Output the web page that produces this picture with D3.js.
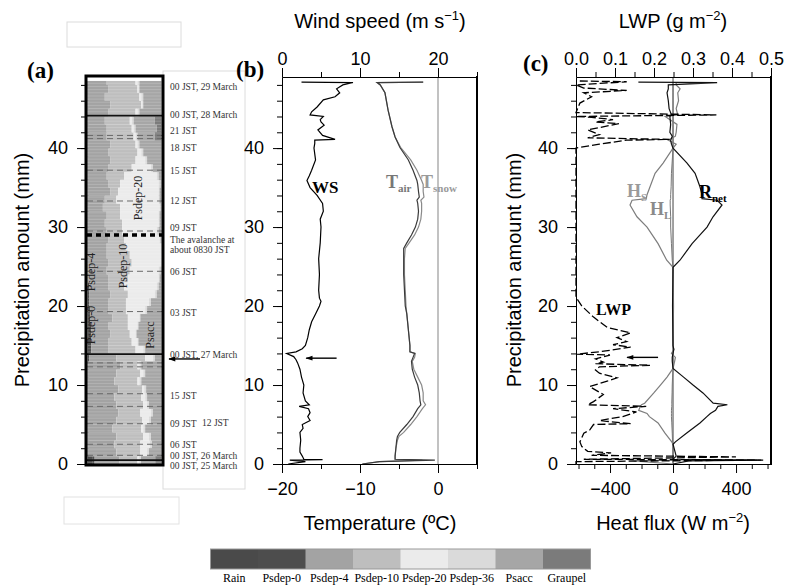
<!DOCTYPE html>
<html>
<head>
<meta charset="utf-8">
<script src="https://cdn.jsdelivr.net/npm/d3@7"></script>
<style>
  body { margin: 0; background: #fff; }
  text { font-family: "Liberation Sans", Arial, sans-serif; }
  .serif { font-family: "Liberation Serif", "Times New Roman", serif; }
</style>
</head>
<body>
<svg id="fig" width="787" height="587"></svg>
<script>
// ---- data ----
// panel (a): precipitation levels (mm) and relative share of each process in that level
var levels = [0,1,2,3,4,5,6,7,8,9,10,11,12,13,14,15,16,17,18,19,20,21,22,23,24,
  25,26,27,28,29,30,31,32,33,34,35,36,37,38,39,40,41,42,43,44,45,46,47,48];
var rainShare    = [6,0,0,0,0,0,0,0,0,0,0,0,0,0,0,0,0,0,0,0,0,0,0,0,0,0,0,0,0,0,0,0,0,0,0,0,0,0,0,0,0,0,0,0,0,0,0,0,0];
var psdep0Share  = [2,1,1,1,1,1,1,1,1,1,1,1,1,2,4,4,4,4,3,3,2,2,2,1,1,1,1,1,1,1,1,1,1,1,1,1,1,1,1,1,1,1,1,1,1,1,1,1,1];
var psdep4Share  = [28,29,27,29,25,29,31,29,27,31,27,29,33,28,18,18,20,18,23,19,20,22,20,21,19,21,19,19,21,19,17,19,15,17,23,21,19,21,23,21,23,19,19,17,21,23,17,21,19];
var psdep10Share = [20,25,27,28,30,27,23,28,28,25,24,25,18,30,28,24,20,20,16,18,18,18,16,20,24,24,24,20,16,16,18,14,18,12,8,12,18,24,26,30,26,28,26,26,28,32,36,30,30];
var psdep20Share = [2,7,10,6,2,7,11,4,4,2,2,3,2,8,8,6,6,10,12,20,24,28,34,32,30,30,32,36,37,36,38,40,41,44,42,40,34,20,10,4,2,2,2,2,2,1,2,1,2];
var psdep36Share = [2,2,2,2,2,2,2,2,2,2,2,2,2,2,2,1,1,1,1,2,2,2,2,1,2,1,1,1,1,2,1,1,1,1,1,2,2,2,2,2,2,2,2,2,2,1,2,1,2];
var psaccShare   = [16,13,10,11,17,11,9,13,15,16,21,17,21,7,17,24,26,24,22,15,11,5,3,2,1,0,0,0,1,3,2,2,1,2,2,1,3,9,15,19,23,18,22,22,23,19,19,23,23];
var graupelShare = [7,0,0,0,0,0,0,0,0,0,0,0,0,0,0,0,0,0,0,0,0,0,0,0,0,0,0,0,0,0,0,0,0,0,0,0,0,0,0,0,0,7,5,7,0,0,0,0,0];

var categories = ["Rain", "Psdep-0", "Psdep-4", "Psdep-10", "Psdep-20", "Psdep-36", "Psacc", "Graupel"];
var catColors  = ["#4a4a4a", "#4d4d4d", "#a3a3a3", "#bebebe", "#ebebeb", "#dadada", "#a6a6a6", "#7b7b7b"];

// time marks in panel (a)
var timeLabels = ["00 JST, 29 March", "00 JST, 28 March", "21 JST", "18 JST", "15 JST", "12 JST", "09 JST",
  "The avalanche at", "about 0830 JST", "06 JST", "03 JST", "00 JST, 27 March", "15 JST", "09 JST",
  "06 JST", "00 JST, 26 March", "00 JST, 25 March"];
var timeLabelMm = [47.8, 44.2, 42.2, 40.1, 37.1, 33.3, 29.9, 28.4, 27.2, 24.3, 19.1, 13.8, 8.7, 5.1, 2.5, 1.0, -0.25];
var solidLinesMm  = [0.5, 13.9, 44.1];
var dashedLinesMm = [1.1, 2.5, 5.1, 7.3, 8.9, 12.3, 12.8, 19.3, 24.4, 29.5, 33.3, 37.2, 41.2, 41.6];
var avalancheMm = 29.0;

// panel (b): wind speed
var wsMm  = [0,0.3,0.5,0.55,0.6,1,1.5,2,3,4,4.5,5,5.5,6,6.5,7,7.3,7.5,8,9,10,11,12,12.8,13.2,13.6,14,14.2,14.6,15,16,17,18,19,20,20.6,21,22,24,26,28,30,31,32,33,34,35,35.9,36.5,37.2,38.5,40,40.6,41,41.1,41.3,41.6,42.3,42.9,43.3,43.6,44,44.2,44.6,45.2,46.1,46.5,47,47.5,48,48.3,48.35];
var wsVal = [0.8,3.0,1.0,5.2,2.8,2.6,2.3,2.3,2.4,2.3,2.7,2.6,3.6,3.3,3.6,3.4,2.2,3.5,3.0,2.7,2.8,2.5,2.3,2.0,1.8,1.5,0.6,1.8,2.6,3.0,3.3,3.5,3.8,4.3,4.8,5.0,4.8,4.7,4.8,4.7,4.9,5.0,4.9,5.3,5.2,4.5,3.6,3.2,3.5,3.8,4.3,4.1,4.2,4.2,6.8,6.2,5.2,4.6,5.4,5.0,4.9,5.3,3.6,3.8,4.5,5.3,6.8,7.4,7.0,7.8,9.1,2.5];

// panel (b): air and snow surface temperature
var tMm    = [0,0.3,0.5,0.6,1,2,3,3.5,4,5,6,7,7.5,8,9,10,11,12,13,13.5,14,14.2,15,17,19,20,22,24,26,27.3,28,29,30,31,32,33,33.4,33.8,34.5,35.4,35.9,37.2,38.5,40.1,41.4,42.7,44.8,47,48,48.3,48.35];
var tAir   = [-9.7,-7.5,-0.4,-5.5,-5.5,-5.4,-5.3,-5.2,-4.9,-4.0,-3.2,-2.6,-2.2,-2.3,-2.4,-2.6,-3.0,-3.3,-3.4,-3.2,-3.0,-3.6,-3.6,-3.8,-4.0,-4.2,-4.3,-4.4,-4.4,-4.4,-4.0,-3.4,-2.9,-2.6,-2.5,-2.6,-2.7,-2.4,-2.5,-2.6,-2.7,-3.2,-3.8,-4.9,-5.5,-5.9,-6.4,-6.8,-7.4,-7.8,-1.9];
var tSnow  = [-9.7,-7.5,-2.0,-5.5,-5.5,-5.4,-5.2,-5.0,-4.4,-3.5,-2.7,-2.0,-1.6,-1.9,-1.9,-2.1,-2.6,-3.1,-3.3,-3.0,-2.9,-3.6,-3.6,-3.8,-4.0,-4.1,-4.2,-4.3,-4.3,-4.2,-3.7,-3.0,-2.5,-2.2,-2.1,-2.1,-2.2,-1.8,-1.9,-1.9,-2.1,-2.7,-3.5,-4.8,-5.5,-5.9,-6.4,-6.8,-7.4,-7.8,-1.9];

// panel (c): liquid water path
var lwpMm  = [0,0.3,0.5,0.6,0.9,1.1,1.4,1.6,2.2,2.8,3.9,4.3,5.0,5.1,5.5,6.0,6.6,7.0,7.3,7.5,7.9,8.8,9.8,10.5,10.9,11.5,11.9,12.3,12.5,12.7,12.9,13.3,13.8,13.9,14.2,14.8,15.1,15.5,16.0,16.6,17.3,18.6,20.0,21.1,40.0,40.5,41.0,41.1,41.3,41.7,42.3,43.1,43.3,43.6,43.9,44.0,44.2,44.5,45.7,46.5,47.0,47.3,47.6,48.0,48.4,48.5];
var lwpVal = [0,0,0.48,0.02,0.41,0.04,0.09,0.03,0.015,0.01,0.02,0.035,0.045,0.14,0.06,0.12,0.155,0.095,0.18,0.03,0.045,0.07,0.035,0.08,0.105,0.06,0.05,0.06,0.19,0.05,0.07,0.05,0.087,0,0.06,0.14,0.095,0.13,0.105,0.14,0.08,0.045,0.015,0,0,0.06,0.13,0.24,0.03,0.06,0.03,0.11,0.05,0.095,0.04,0,0.36,0,0.01,0.04,0.02,0.13,0.02,0,0.13,0];

// panel (c): heat fluxes
var fluxMm = [0,0.4,0.5,0.6,1.0,2.5,2.8,3.9,5.2,6.0,6.4,6.8,7.3,7.5,7.7,9.0,10.0,11.0,12.1,13.0,13.5,14.0,14.5,15.0,20,24.9,25.8,27.9,30.0,31.3,32.8,33.4,33.6,34.1,35.1,36.8,38.1,40.0,40.5,41.0,41.5,42,43,44,44.2,45,46,47,47.5,48,48.3,48.35];
var hsVal  = [0,-250,0,0,0,0,-8,-51,-95,-150,-165,-218,-207,-200,-180,-122,-80,-38,0,10,15,-10,5,0,3,0,-40,-95,-165,-229,-273,-260,-170,-165,-146,-114,-63,0,20,-30,15,20,25,-50,30,20,35,30,45,20,20,20];
var hlVal  = [0,0,0,0,0,0,-3,-5,-8,-10,-10,-10,-8,-8,-8,-6,-5,-3,0,0,0,0,0,0,0,0,-5,-10,-15,-15,-18,-18,-15,-15,-12,-10,-6,0,0,0,0,0,0,0,0,0,0,0,0,0,0,0];
var rnetVal= [0,100,560,0,20,0,15,85,171,215,237,270,285,345,255,190,127,67,0,-5,-5,0,5,0,-3,0,44,121,216,254,311,280,184,184,171,140,89,0,-10,-15,-5,-20,-15,-20,-10,-25,-30,-38,-30,-30,280,-220];

// ---- figure ----
var svg = d3.select("#fig");

var y = d3.scaleLinear().domain([0, 49]).range([464, 77]);
var xa = d3.scaleLinear().domain([0, 1]).range([87.5, 161.5]);
var xw = d3.scaleLinear().domain([0, 25]).range([282, 477]);
var xt = d3.scaleLinear().domain([-20, 5]).range([282, 477]);
var xl = d3.scaleLinear().domain([0, 0.5]).range([576, 771]);
var xf = d3.scaleLinear().domain([-616, 622]).range([576, 771]);

// blank boxes of the original layout
svg.append("rect").attr("x", 67).attr("y", 22).attr("width", 114).attr("height", 25)
  .attr("fill", "#fff").attr("stroke", "#dcdcdc");
svg.append("rect").attr("x", 64).attr("y", 497).attr("width", 115).attr("height", 27)
  .attr("fill", "#fff").attr("stroke", "#e2e2e2");
// box behind time labels
svg.append("rect").attr("x", 163).attr("y", 71).attr("width", 82).attr("height", 418)
  .attr("fill", "#fff").attr("stroke", "#dcdcdc");

// ---------- panel (a) ----------
var rows = levels.map(function(l, i) {
  return {level: l, "Rain": rainShare[i], "Psdep-0": psdep0Share[i], "Psdep-4": psdep4Share[i],
    "Psdep-10": psdep10Share[i], "Psdep-20": psdep20Share[i], "Psdep-36": psdep36Share[i],
    "Psacc": psaccShare[i], "Graupel": graupelShare[i]};
});
var stacked = d3.stack().keys(categories).offset(d3.stackOffsetExpand)(rows);

var gA = svg.append("g");
gA.append("rect").attr("x", 86).attr("y", 76).attr("width", 77).attr("height", 389).attr("fill", "#fff");
stacked.forEach(function(layer, k) {
  gA.selectAll(null).data(layer).enter().append("rect")
    .attr("x", d => xa(d[0]))
    .attr("width", d => Math.max(0, xa(d[1]) - xa(d[0])))
    .attr("y", d => y(Math.min(d.data.level + 1, 48.5)))
    .attr("height", d => y(d.data.level) - y(Math.min(d.data.level + 1, 48.5)) + 0.3)
    .attr("fill", catColors[k]);
});
// banded look of the original raster
gA.selectAll(null).data(d3.range(0.2, 48.5, 0.4)).enter().append("line")
  .attr("x1", 87).attr("x2", 162).attr("y1", d => y(d)).attr("y2", d => y(d))
  .attr("stroke", "#fff").attr("stroke-opacity", 0.22).attr("stroke-width", 0.8);

gA.selectAll(null).data(dashedLinesMm).enter().append("line")
  .attr("x1", 87).attr("x2", 162).attr("y1", d => y(d)).attr("y2", d => y(d))
  .attr("stroke", "#6a6a6a").attr("stroke-width", 1).attr("stroke-dasharray", "6,4");
gA.selectAll(null).data(solidLinesMm).enter().append("line")
  .attr("x1", 87).attr("x2", 162).attr("y1", d => y(d)).attr("y2", d => y(d))
  .attr("stroke", "#111").attr("stroke-width", 1.8);
gA.append("line").attr("x1", 87).attr("x2", 162)
  .attr("y1", y(avalancheMm)).attr("y2", y(avalancheMm))
  .attr("stroke", "#000").attr("stroke-width", 3.5).attr("stroke-dasharray", "5,4");

// process names inside panel (a)
var inner = [["Psdep-0", 95, 325], ["Psdep-4", 95, 272], ["Psdep-10", 127, 266], ["Psdep-20", 142, 198], ["Psacc", 154, 335]];
inner.forEach(function(t) {
  gA.append("text").attr("class", "serif")
    .attr("transform", "translate(" + t[1] + "," + t[2] + ") rotate(-90)")
    .attr("text-anchor", "middle").attr("font-size", 12).attr("fill", "#222").text(t[0]);
});

gA.append("rect").attr("x", 86).attr("y", 76).attr("width", 77).attr("height", 389)
  .attr("fill", "none").attr("stroke", "#000").attr("stroke-width", 3);

// time labels
svg.append("g").selectAll("text").data(timeLabels).enter().append("text")
  .attr("class", "serif").attr("x", 170).attr("y", (d, i) => y(timeLabelMm[i]))
  .attr("dy", "0.35em").attr("font-size", 9.5).attr("fill", "#333").text(d => d);
svg.append("text").attr("class", "serif").attr("x", 202).attr("y", y(5.2)).attr("dy", "0.35em")
  .attr("font-size", 9.5).attr("fill", "#333").text("12 JST");

// arrow markers (head points along the line direction)
svg.append("defs").append("marker").attr("id", "ah").attr("viewBox", "0 0 10 10")
  .attr("refX", 9).attr("refY", 5).attr("markerUnits", "userSpaceOnUse")
  .attr("markerWidth", 8).attr("markerHeight", 7).attr("orient", "auto")
  .append("path").attr("d", "M0,1.5 L10,5 L0,8.5 Z").attr("fill", "#000");

function arrow(x1, x2, yy) {
  // line drawn from the right end to the left end, head at the left
  svg.append("line").attr("x1", x2).attr("x2", x1).attr("y1", yy).attr("y2", yy)
    .attr("stroke", "#000").attr("stroke-width", 1.4).attr("marker-end", "url(#ah)");
}
arrow(169, 200, y(13.3));

// ---------- helper for axes ----------
function styleAxis(g, size) {
  g.selectAll("text").attr("font-size", size).attr("fill", "#000")
    .attr("font-family", "'Liberation Sans', Arial, sans-serif");
  g.selectAll("line").attr("stroke", "#000");
  g.select(".domain").attr("stroke", "#000");
}
function leftAxis(x0) {
  var g1 = svg.append("g").attr("transform", "translate(" + x0 + ",0)")
    .call(d3.axisLeft(y).tickValues(d3.range(0, 49, 2)).tickSize(5).tickSizeOuter(0).tickFormat(""));
  styleAxis(g1, 18);
  var g2 = svg.append("g").attr("transform", "translate(" + x0 + ",0)")
    .call(d3.axisLeft(y).tickValues([0, 10, 20, 30, 40]).tickSize(9).tickPadding(9).tickSizeOuter(0));
  styleAxis(g2, 18);
  g2.select(".domain").remove();
}
function yTitle(x0) {
  svg.append("text").attr("transform", "translate(" + x0 + "," + 270 + ") rotate(-90)")
    .attr("text-anchor", "middle").attr("font-size", 20).text("Precipitation amount (mm)");
}

leftAxis(86);
yTitle(29);

// ---------- panel (b) ----------
svg.append("line").attr("x1", xt(0)).attr("x2", xt(0)).attr("y1", 77).attr("y2", 464)
  .attr("stroke", "#999").attr("stroke-width", 1.2);

var lineT = function(vals) {
  return d3.line().x((d, i) => xt(vals[i])).y(d => y(d));
};
svg.append("path").datum(tMm).attr("d", lineT(tSnow))
  .attr("fill", "none").attr("stroke", "#8a8a8a").attr("stroke-width", 1.2);
svg.append("path").datum(tMm).attr("d", lineT(tAir))
  .attr("fill", "none").attr("stroke", "#3a3a3a").attr("stroke-width", 1.2);
svg.append("path").datum(wsMm)
  .attr("d", d3.line().x((d, i) => xw(wsVal[i])).y(d => y(d)))
  .attr("fill", "none").attr("stroke", "#000").attr("stroke-width", 1.2);

leftAxis(282);
var gbt = svg.append("g").attr("transform", "translate(0,77)")
  .call(d3.axisTop(xw).tickValues([5, 15, 25]).tickSize(5).tickSizeOuter(0).tickFormat(""));
styleAxis(gbt, 18);
var gbt2 = svg.append("g").attr("transform", "translate(0,77)")
  .call(d3.axisTop(xw).tickValues([0, 10, 20]).tickSize(9).tickPadding(3).tickSizeOuter(0));
styleAxis(gbt2, 18);
var gbb = svg.append("g").attr("transform", "translate(0,464)")
  .call(d3.axisBottom(xt).tickValues([-15, -5, 5]).tickSize(5).tickSizeOuter(0).tickFormat(""));
styleAxis(gbb, 18);
var gbb2 = svg.append("g").attr("transform", "translate(0,464)")
  .call(d3.axisBottom(xt).tickValues([-20, -10, 0]).tickSize(9).tickPadding(9).tickSizeOuter(0));
styleAxis(gbb2, 18);
svg.append("line").attr("x1", 477).attr("x2", 477).attr("y1", 76).attr("y2", 465)
  .attr("stroke", "#000").attr("stroke-width", 2);

arrow(xw(3.1), xw(7.0), y(13.4));

svg.append("text").attr("class", "serif").attr("x", 312).attr("y", 193)
  .attr("font-size", 17).attr("font-weight", "bold").text("WS");
var tA = svg.append("text").attr("class", "serif").attr("x", 386).attr("y", 188)
  .attr("font-size", 18).attr("font-weight", "bold").attr("fill", "#777");
tA.append("tspan").text("T");
tA.append("tspan").attr("dy", 4).attr("font-size", 11).text("air");
var tS = svg.append("text").attr("class", "serif").attr("x", 421).attr("y", 188)
  .attr("font-size", 18).attr("font-weight", "bold").attr("fill", "#9a9a9a");
tS.append("tspan").text("T");
tS.append("tspan").attr("dy", 4).attr("font-size", 11).text("snow");

// ---------- panel (c) ----------
svg.append("line").attr("x1", xf(0)).attr("x2", xf(0)).attr("y1", 77).attr("y2", 464)
  .attr("stroke", "#444").attr("stroke-width", 1);

var lineF = function(vals) {
  return d3.line().x((d, i) => xf(vals[i])).y(d => y(d));
};
svg.append("path").datum(fluxMm).attr("d", lineF(hlVal))
  .attr("fill", "none").attr("stroke", "#777").attr("stroke-width", 1);
svg.append("path").datum(fluxMm).attr("d", lineF(hsVal))
  .attr("fill", "none").attr("stroke", "#7d7d7d").attr("stroke-width", 1.2);
svg.append("path").datum(fluxMm).attr("d", lineF(rnetVal))
  .attr("fill", "none").attr("stroke", "#111").attr("stroke-width", 1.2);
svg.append("path").datum(lwpMm)
  .attr("d", d3.line().x((d, i) => xl(lwpVal[i])).y(d => y(d)))
  .attr("fill", "none").attr("stroke", "#000").attr("stroke-width", 1.3).attr("stroke-dasharray", "8,3");

leftAxis(576);
yTitle(521);
var gct = svg.append("g").attr("transform", "translate(0,77)")
  .call(d3.axisTop(xl).tickValues(d3.range(0.05, 0.5, 0.1)).tickSize(5).tickSizeOuter(0).tickFormat(""));
styleAxis(gct, 18);
var gct2 = svg.append("g").attr("transform", "translate(0,77)")
  .call(d3.axisTop(xl).tickValues([0, 0.1, 0.2, 0.3, 0.4, 0.5]).tickSize(9).tickPadding(3)
    .tickSizeOuter(0).tickFormat(d3.format(".1f")));
styleAxis(gct2, 18);
var gcb = svg.append("g").attr("transform", "translate(0,464)")
  .call(d3.axisBottom(xf).tickValues([-600, -500, -300, -200, -100, 100, 200, 300, 500, 600])
    .tickSize(5).tickSizeOuter(0).tickFormat(""));
styleAxis(gcb, 18);
var gcb2 = svg.append("g").attr("transform", "translate(0,464)")
  .call(d3.axisBottom(xf).tickValues([-400, 0, 400]).tickSize(9).tickPadding(9).tickSizeOuter(0));
styleAxis(gcb2, 18);
svg.append("line").attr("x1", 771).attr("x2", 771).attr("y1", 76).attr("y2", 465)
  .attr("stroke", "#000").attr("stroke-width", 2);

arrow(xf(-292), xf(-95), y(13.5));

svg.append("text").attr("class", "serif").attr("x", 596).attr("y", 315)
  .attr("font-size", 16).attr("font-weight", "bold").text("LWP");
var hS = svg.append("text").attr("class", "serif").attr("x", 627).attr("y", 197)
  .attr("font-size", 18).attr("font-weight", "bold").attr("fill", "#9a9a9a");
hS.append("tspan").text("H");
hS.append("tspan").attr("dy", 4).attr("font-size", 11).text("S");
var hL = svg.append("text").attr("class", "serif").attr("x", 650).attr("y", 215)
  .attr("font-size", 18).attr("font-weight", "bold").attr("fill", "#8a8a8a");
hL.append("tspan").text("H");
hL.append("tspan").attr("dy", 4).attr("font-size", 11).text("L");
var rN = svg.append("text").attr("class", "serif").attr("x", 699).attr("y", 198)
  .attr("font-size", 18).attr("font-weight", "bold").attr("fill", "#000");
rN.append("tspan").text("R");
rN.append("tspan").attr("dy", 4).attr("font-size", 11).text("net");

// ---------- axis titles ----------
function supTitle(x0, y0, main, sup, tail) {
  var t = svg.append("text").attr("x", x0).attr("y", y0).attr("text-anchor", "middle").attr("font-size", 20);
  t.append("tspan").text(main);
  t.append("tspan").attr("dy", -8).attr("font-size", 13).text(sup);
  t.append("tspan").attr("dy", 8).text(tail);
}
supTitle(380, 28, "Wind speed (m s", "\u22121", ")");
supTitle(673, 28, "LWP (g m", "\u22122", ")");
supTitle(673, 530, "Heat flux (W m", "\u22122", ")");
svg.append("text").attr("x", 380).attr("y", 530).attr("text-anchor", "middle")
  .attr("font-size", 20).text("Temperature (\u00baC)");

// panel letters
[["(a)", 27, 78], ["(b)", 236, 77], ["(c)", 523, 71]].forEach(function(p) {
  svg.append("text").attr("class", "serif").attr("x", p[1]).attr("y", p[2])
    .attr("font-size", 23).attr("font-weight", "bold").text(p[0]);
});

// ---------- legend bar ----------
var xLeg = d3.scaleBand().domain(categories).range([210.5, 590.5]);
var leg = svg.append("g");
leg.selectAll("rect").data(categories).enter().append("rect")
  .attr("x", d => xLeg(d)).attr("y", 549).attr("width", xLeg.bandwidth() + 0.5).attr("height", 20)
  .attr("fill", (d, i) => catColors[i]);
leg.append("rect").attr("x", 210.5).attr("y", 549).attr("width", 380).attr("height", 20)
  .attr("fill", "none").attr("stroke", "#999").attr("stroke-width", 1);
leg.selectAll("text").data(categories).enter().append("text")
  .attr("class", "serif").attr("x", d => xLeg(d) + xLeg.bandwidth() / 2).attr("y", 582)
  .attr("text-anchor", "middle").attr("font-size", 12).text(d => d);
</script>
</body>
</html>
